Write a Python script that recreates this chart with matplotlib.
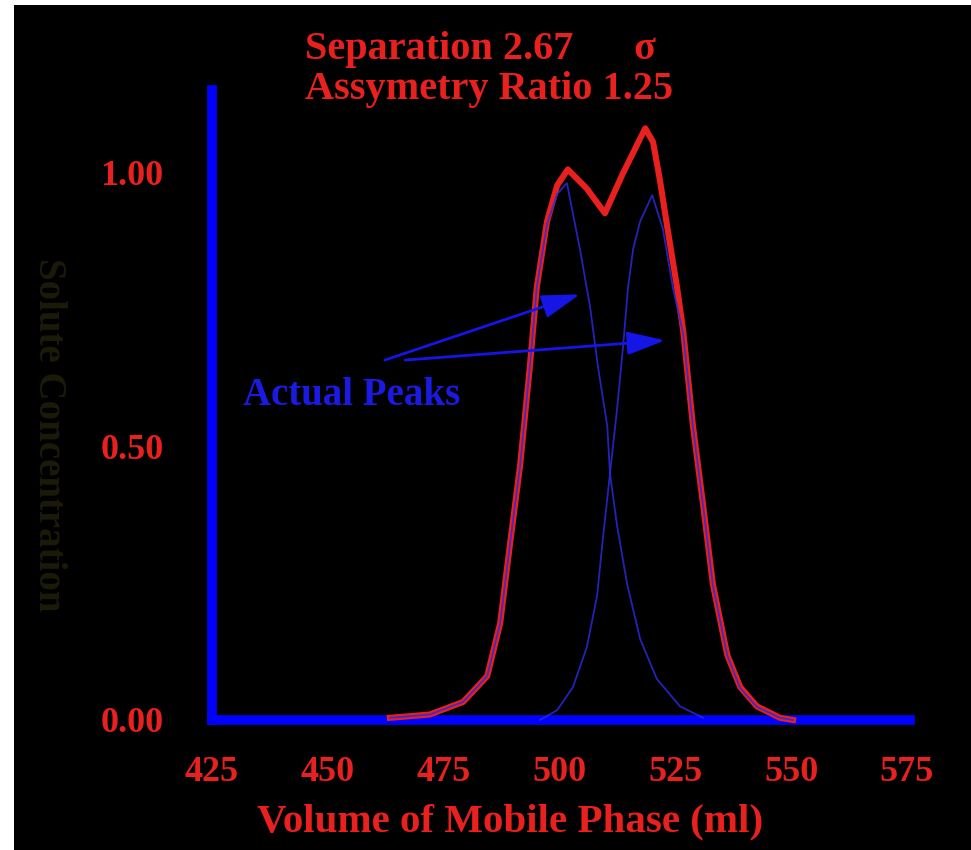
import matplotlib
matplotlib.use("Agg")
import matplotlib.pyplot as plt
from matplotlib.patches import Rectangle

# ---- data ----
x_ticks = [425, 450, 475, 500, 525, 550, 575]
y_ticks = [0.0, 0.5, 1.0]
y_tick_labels = ["0.00", "0.50", "1.00"]

observed_x = [463.4, 472.0, 479.2, 484.4, 487.2, 489.3, 491.5, 493.6, 495.1, 497.3,
              499.5, 501.8, 505.9, 509.8, 513.7, 518.5, 520.2, 521.7, 523.2, 525.4,
              526.7, 528.8, 531.0, 533.1, 536.2, 539.0, 542.6, 547.6, 550.4]
observed_y = [0.004, 0.010, 0.033, 0.080, 0.177, 0.320, 0.465, 0.645, 0.790, 0.910,
              0.976, 1.005, 0.970, 0.925, 0.998, 1.080, 1.055, 0.984, 0.903, 0.788,
              0.710, 0.537, 0.392, 0.248, 0.119, 0.060, 0.025, 0.004, 0.000]

peak1_x = [463.4, 472.0, 479.2, 484.4, 487.2, 489.3, 491.5, 493.6, 495.1, 497.3,
           499.5, 501.6, 504.4, 506.6, 508.3, 510.3, 510.9, 512.4, 514.6, 517.4,
           521.0, 526.0, 531.0]
peak1_y = [0.004, 0.010, 0.033, 0.080, 0.177, 0.320, 0.465, 0.645, 0.790, 0.905,
           0.960, 0.980, 0.860, 0.754, 0.645, 0.537, 0.450, 0.356, 0.248, 0.148,
           0.075, 0.025, 0.004]

peak2_x = [495.8, 499.5, 502.9, 505.9, 508.1, 509.4, 510.9, 512.4, 513.7, 514.8,
           515.9, 517.4, 520.0, 522.3, 524.5, 526.7, 528.8, 531.0, 533.1, 536.2,
           539.0, 542.6, 547.6, 550.4]
peak2_y = [0.000, 0.018, 0.060, 0.133, 0.226, 0.334, 0.450, 0.566, 0.680, 0.790,
           0.860, 0.910, 0.958, 0.897, 0.788, 0.705, 0.535, 0.390, 0.246, 0.118,
           0.058, 0.024, 0.004, 0.000]

title_line1 = "Separation 2.67      σ"
title_line2 = "Assymetry Ratio 1.25"
x_label = "Volume of Mobile Phase (ml)"
y_label = "Solute Concentration"
annotation_text = "Actual Peaks"
arrow_tails = [(462.3, 0.657), (466.7, 0.657)]
arrow_heads = [(504.4, 0.777), (522.8, 0.693)]
text_pos = (431.7, 0.593)

RED = "#e8201e"
BLUE = "#0000ff"
CURVE_BLUE = "#2a2ad8"
SERIF = ["Liberation Serif", "DejaVu Serif"]
FS = 28

W, H = 971, 850
fig = plt.figure(figsize=(W / 100, H / 100), dpi=100, facecolor="white")
# black panel (image has a thin white margin at left and top)
fig.patches.append(Rectangle((14 / W, 0), 1 - 14 / W, 1 - 5 / H,
                             transform=fig.transFigure, facecolor="black",
                             edgecolor="none", zorder=-10))

left, right = 212 / W, 907 / W
bottom, top = (H - 720) / H, (H - 90) / H
ax = fig.add_axes([left, bottom, right - left, top - bottom])
ax.set_facecolor("none")
ax.set_xlim(425, 575)
ax.set_ylim(0, 1.15)

for s in ["top", "right"]:
    ax.spines[s].set_visible(False)
for s in ["left", "bottom"]:
    ax.spines[s].set_color(BLUE)
    ax.spines[s].set_linewidth(7)
    ax.spines[s].set_capstyle("projecting")
ax.spines["bottom"].set_bounds(425, 575.6)

ax.set_xticks(x_ticks)
ax.set_xticklabels([str(v) for v in x_ticks])
ax.set_yticks(y_ticks)
ax.set_yticklabels(y_tick_labels)
ax.tick_params(axis="both", length=0, colors=RED, labelsize=26, labelcolor=RED)
ax.tick_params(axis="x", pad=26)
ax.tick_params(axis="y", pad=35)
for lab in ax.get_xticklabels() + ax.get_yticklabels():
    lab.set_family(SERIF)
    lab.set_fontweight("bold")

ax.plot(observed_x, observed_y, color=RED, lw=4.4, solid_joinstyle="round",
        clip_on=False, zorder=3)
ax.plot(peak1_x, peak1_y, color=CURVE_BLUE, lw=1.3, alpha=0.85, clip_on=False, zorder=4)
ax.plot(peak2_x, peak2_y, color=CURVE_BLUE, lw=1.3, alpha=0.85, clip_on=False, zorder=4)

for (tx, ty), (hx, hy) in zip(arrow_tails, arrow_heads):
    ax.annotate("", xy=(hx, hy), xytext=(tx, ty),
                arrowprops=dict(arrowstyle="-|>,head_length=1.3,head_width=0.4",
                                color="#1515e6", lw=2, mutation_scale=18,
                                shrinkA=0, shrinkB=0), zorder=5)

ax.text(text_pos[0], text_pos[1], annotation_text, color="#1a1ae0", fontsize=28,
        fontweight="bold", family=SERIF, ha="left", va="center", zorder=5)

ax.set_xlabel(x_label, color=RED, fontsize=29.5, fontweight="bold",
              family=SERIF, labelpad=10)
ax.xaxis.label.set_x((510 - 212) / (907 - 212))

fig.text(305 / W, 1 - 49 / H, title_line1, color=RED, fontsize=FS + 1,
         fontweight="bold", family=SERIF, ha="left", va="center")
fig.text(305 / W, 1 - 90 / H, title_line2, color=RED, fontsize=FS + 1,
         fontweight="bold", family=SERIF, ha="left", va="center")
fig.text(48 / W, 1 - 435 / H, y_label, color="#1c1a08", fontsize=FS,
         fontweight="bold", family=SERIF, ha="center", va="center", rotation=270)

fig.savefig("out.png", dpi=100, facecolor="white")
